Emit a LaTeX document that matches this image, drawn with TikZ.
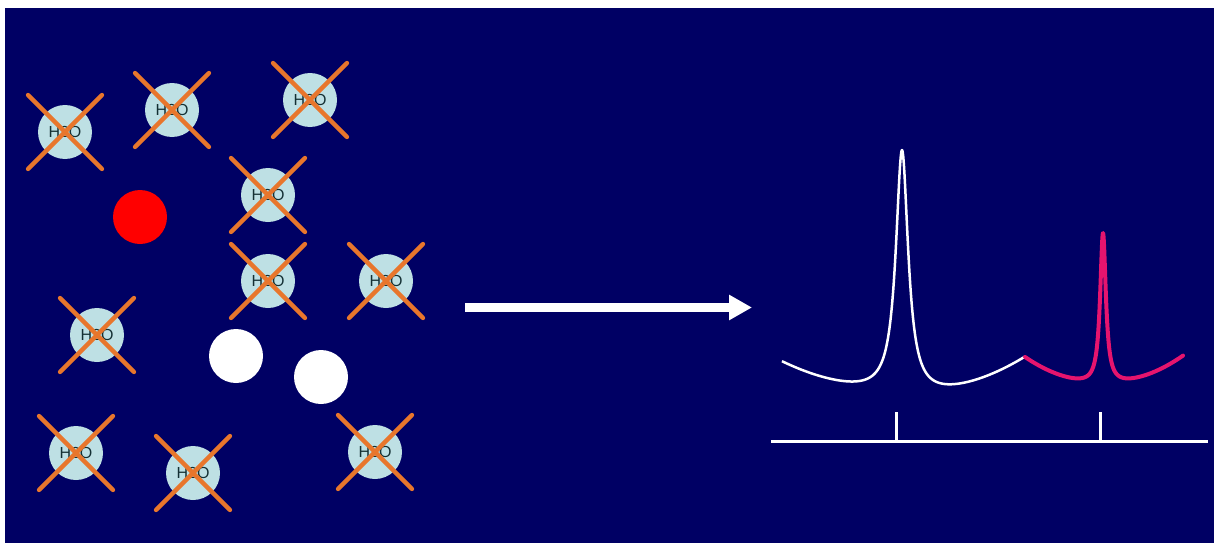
\documentclass[tikz,border=0pt]{standalone}
\usepackage{fontspec}
\setmainfont{Liberation Sans}
\usetikzlibrary{arrows.meta}
\definecolor{bgnavy}{RGB}{0,0,100}
\definecolor{waterblue}{RGB}{190,224,228}
\definecolor{crossorange}{RGB}{232,118,44}
\definecolor{watertext}{RGB}{20,48,52}
\definecolor{peakpink}{RGB}{230,20,110}
\definecolor{dotred}{RGB}{255,0,0}
\begin{document}
\begin{tikzpicture}[x=1pt,y=-1pt,
  water/.style={circle, fill=waterblue, minimum size=54pt, inner sep=0pt,
    text=watertext, font=\fontsize{16}{19}\selectfont},
  xline/.style={draw=crossorange, line width=4.3pt, line cap=round},
  ball/.style={circle, minimum size=54pt, inner sep=0pt},
  spec/.style={draw=white, line width=3pt},
  bigarrow/.style={draw=white, line width=9pt, -{Triangle[length=23pt,width=24pt]}}]
\useasboundingbox (0,0) rectangle (1214,543);
\fill[bgnavy] (5,8) rectangle (1214,543);
% red and white balls
\node[ball, fill=dotred] (red) at (140,217) {};
\node[ball, fill=white] (wb1) at (236,356) {};
\node[ball, fill=white] (wb2) at (321,377) {};
% water molecules with crosses
\foreach \n/\px/\py in {w1/65/132, w2/172/110, w3/310/100, w4/268/195, w5/268/281,
  w6/386/281, w7/97/335, w8/76/453, w9/193/473, w10/375/452} {
  \node[water] (\n) at (\px,\py) {H2O};
  \draw[xline] ([shift={(-37,-37)}]\n.center) -- ([shift={(37,37)}]\n.center);
  \draw[xline] ([shift={(-37,37)}]\n.center) -- ([shift={(37,-37)}]\n.center);
}
% arrow
\coordinate (arrA) at (465,307.5);
\coordinate (arrB) at (752,307.5);
\draw[bigarrow] (arrA) -- (arrB);
% spectrum axis
\coordinate (axL) at (771,441.5);
\coordinate (axR) at (1208,441.5);
\coordinate (t1b) at (896,441.5);
\coordinate (t1t) at (896,412);
\coordinate (t2b) at (1100,441.5);
\coordinate (t2t) at (1100,412);
\draw[spec] (axL) -- (axR);
\draw[spec] (t1b) -- (t1t);
\draw[spec] (t2b) -- (t2t);
% peaks
\draw[white, line width=2.5pt, line join=round]
  plot[domain=-120:0, samples=300] ({902+\x}, {392 - 242*56/(\x*\x+56) - 0.00208*\x*\x})
  -- plot[domain=0:123, samples=300] ({902+\x}, {396 - 246*56/(\x*\x+56) - 0.00255*\x*\x});
\draw[peakpink, line width=4pt, line cap=round, line join=round]
  plot[domain=-78:80, samples=600] ({1103+\x}, {384 - 151*12/(\x*\x+12) - 0.0044*\x*\x});
\end{tikzpicture}
\end{document}
